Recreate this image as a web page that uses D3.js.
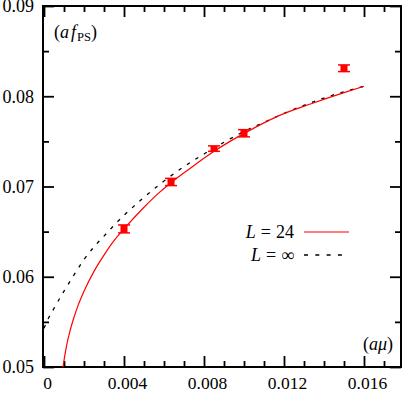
<!DOCTYPE html>
<html>
<head>
<meta charset="utf-8">
<title></title>
<script src="https://d3js.org/d3.v7.min.js"></script>
<style>
body { margin: 0; background: #fff; }
text { font-family: "Liberation Serif", "DejaVu Serif", serif; fill: #000; }
</style>
</head>
<body>
<div id="chart"></div>
<script type="text/javascript">
// measured points (a mu, a f_PS, error)
var muPts  = [0.004, 0.00635, 0.0085, 0.0100, 0.0150];
var fPts   = [0.0653, 0.0705, 0.0742, 0.0759, 0.0831];
var errPts = [0.00044, 0.0004, 0.0003, 0.0004, 0.00037];

// fit curve L = 24
var fitL24 = [[0.00095,0.0500],[0.00105,0.0514],[0.00115,0.0526],[0.0013,0.0540],[0.0015,0.0555],
  [0.0017,0.0568],[0.002,0.0584],[0.0025,0.0606],[0.003,0.0624],[0.0035,0.0640],[0.004,0.0653],
  [0.005,0.0677],[0.0058,0.0694],[0.0064,0.0705],[0.0073,0.0720],[0.0083,0.0736],[0.0093,0.0750],
  [0.0101,0.0760],[0.0117,0.0778],[0.0134,0.0792],[0.0150,0.0804],[0.016,0.0811]];

// fit curve L = infinity
var fitInf = [[0,0.0543],[0.0002,0.0553],[0.0005,0.0565],[0.001,0.0584],[0.0015,0.0602],
  [0.002,0.0619],[0.0025,0.0633],[0.003,0.0645],[0.0035,0.0657],[0.004,0.0668],[0.005,0.0688],
  [0.006,0.0706],[0.007,0.0722],[0.008,0.0736],[0.009,0.0749],[0.010,0.0761],[0.011,0.0771],
  [0.012,0.0781],[0.013,0.0790],[0.014,0.0798],[0.015,0.0805],[0.016,0.0811]];

var xTicks = [0, 0.004, 0.008, 0.012, 0.016];
var xMinor = [0.001, 0.002, 0.003, 0.005, 0.006, 0.007, 0.009, 0.010, 0.011, 0.013, 0.014, 0.015, 0.017];
var yTicks = [0.05, 0.06, 0.07, 0.08, 0.09];
var yMinor = [0.055, 0.065, 0.075, 0.085];

var W = 405, H = 393;

var svg = d3.select("#chart")
  .append("svg")
    .attr("width", W)
    .attr("height", H);

var x = d3.scaleLinear()
    .domain([-0.00005, 0.01785])
    .range([43, 401]);

var y = d3.scaleLinear()
    .domain([0.05, 0.09])
    .range([367, 6]);

var fmtX = function(d) { return d === 0 ? "0" : d3.format(".3f")(d); };
var fmtY = d3.format(".2f");

function styleAxis(g) {
  g.select(".domain").remove();
  g.selectAll("line").attr("stroke", "#000").attr("stroke-width", 1.8);
  g.selectAll("text").attr("font-family", "Liberation Serif").attr("font-size", 18).attr("fill", "#000");
}

// bottom / left with labels, ticks pointing inward
svg.append("g").attr("transform", "translate(0," + y.range()[0] + ")")
  .call(d3.axisBottom(x).tickValues(xTicks).tickFormat(fmtX).tickSizeInner(-11).tickSizeOuter(0).tickPadding(9.5))
  .call(styleAxis)
  .selectAll("text").attr("dx", 3).attr("font-size", 17.5);
svg.append("g").attr("transform", "translate(0," + y.range()[0] + ")")
  .call(d3.axisBottom(x).tickValues(xMinor).tickFormat("").tickSizeInner(-6).tickSizeOuter(0))
  .call(styleAxis);
svg.append("g").attr("transform", "translate(" + x.range()[0] + ",0)")
  .call(d3.axisLeft(y).tickValues(yTicks).tickFormat(fmtY).tickSizeInner(-11).tickSizeOuter(0).tickPadding(9))
  .call(styleAxis);
svg.append("g").attr("transform", "translate(" + x.range()[0] + ",0)")
  .call(d3.axisLeft(y).tickValues(yMinor).tickFormat("").tickSizeInner(-6).tickSizeOuter(0))
  .call(styleAxis);

// mirrored top / right ticks
svg.append("g").attr("transform", "translate(0," + y.range()[1] + ")")
  .call(d3.axisTop(x).tickValues(xTicks).tickFormat("").tickSizeInner(-11).tickSizeOuter(0))
  .call(styleAxis);
svg.append("g").attr("transform", "translate(0," + y.range()[1] + ")")
  .call(d3.axisTop(x).tickValues(xMinor).tickFormat("").tickSizeInner(-6).tickSizeOuter(0))
  .call(styleAxis);
svg.append("g").attr("transform", "translate(" + x.range()[1] + ",0)")
  .call(d3.axisRight(y).tickValues(yTicks).tickFormat("").tickSizeInner(-11).tickSizeOuter(0))
  .call(styleAxis);
svg.append("g").attr("transform", "translate(" + x.range()[1] + ",0)")
  .call(d3.axisRight(y).tickValues(yMinor).tickFormat("").tickSizeInner(-6).tickSizeOuter(0))
  .call(styleAxis);

// frame
svg.append("rect")
  .attr("x", x.range()[0]).attr("y", y.range()[1])
  .attr("width", x.range()[1] - x.range()[0])
  .attr("height", y.range()[0] - y.range()[1])
  .attr("fill", "none").attr("stroke", "#000").attr("stroke-width", 2);

var line = d3.line()
  .x(function(d) { return x(d[0]); })
  .y(function(d) { return y(d[1]); })
  .curve(d3.curveMonotoneX);

svg.append("path").datum(fitInf)
  .attr("d", line).attr("fill", "none")
  .attr("stroke", "#000").attr("stroke-width", 1.3).attr("stroke-dasharray", "3.5,6.5");

svg.append("path").datum(fitL24)
  .attr("d", line).attr("fill", "none")
  .attr("stroke", "#ff0000").attr("stroke-width", 1.2);

// error bars
var pts = muPts.map(function(m, i) { return {mu: m, f: fPts[i], e: errPts[i]}; });
var eb = svg.append("g").selectAll("g").data(pts).enter().append("g");
eb.append("rect")
  .attr("x", function(d) { return x(d.mu) - 3.5; })
  .attr("y", function(d) { return y(d.f + d.e); })
  .attr("width", 7)
  .attr("height", function(d) { return y(d.f - d.e) - y(d.f + d.e); })
  .attr("fill", "#ff0000");
[1, -1].forEach(function(s) {
  eb.append("line")
    .attr("x1", function(d) { return x(d.mu) - 6; })
    .attr("x2", function(d) { return x(d.mu) + 6; })
    .attr("y1", function(d) { return y(d.f + s * d.e); })
    .attr("y2", function(d) { return y(d.f + s * d.e); })
    .attr("stroke", "#ff0000").attr("stroke-width", 1.5);
});

// axis labels
var yl = svg.append("text").attr("x", 54).attr("y", 38).attr("font-size", 18);
yl.append("tspan").text("(");
yl.append("tspan").attr("font-style", "italic").text("a");
yl.append("tspan").attr("font-style", "italic").attr("dx", 2).text("f");
yl.append("tspan").attr("font-size", 12.5).attr("dy", 3).attr("dx", 1).text("PS");
yl.append("tspan").attr("dy", -3).text(")");

var xl = svg.append("text").attr("x", 393).attr("y", 350).attr("font-size", 18).attr("text-anchor", "end");
xl.append("tspan").text("(");
xl.append("tspan").attr("font-style", "italic").text("aμ");
xl.append("tspan").text(")");

// legend
var legend = [{label: "24", dash: null, color: "#ff0000", y: 232},
              {label: "∞", dash: "4,7.3", color: "#000", y: 255}];
legend.forEach(function(l) {
  var t = svg.append("text").attr("x", 294).attr("y", l.y + 6).attr("font-size", 18).attr("text-anchor", "end");
  t.append("tspan").attr("font-style", "italic").text("L");
  t.append("tspan").attr("dx", 5).text("=");
  t.append("tspan").attr("dx", 5).text(l.label);
  svg.append("line")
    .attr("x1", 304).attr("x2", l.dash ? 344 : 349)
    .attr("y1", l.y).attr("y2", l.y)
    .attr("stroke", l.color).attr("stroke-width", l.dash ? 1.3 : 1.2)
    .attr("stroke-dasharray", l.dash);
});
</script>
</body>
</html>
